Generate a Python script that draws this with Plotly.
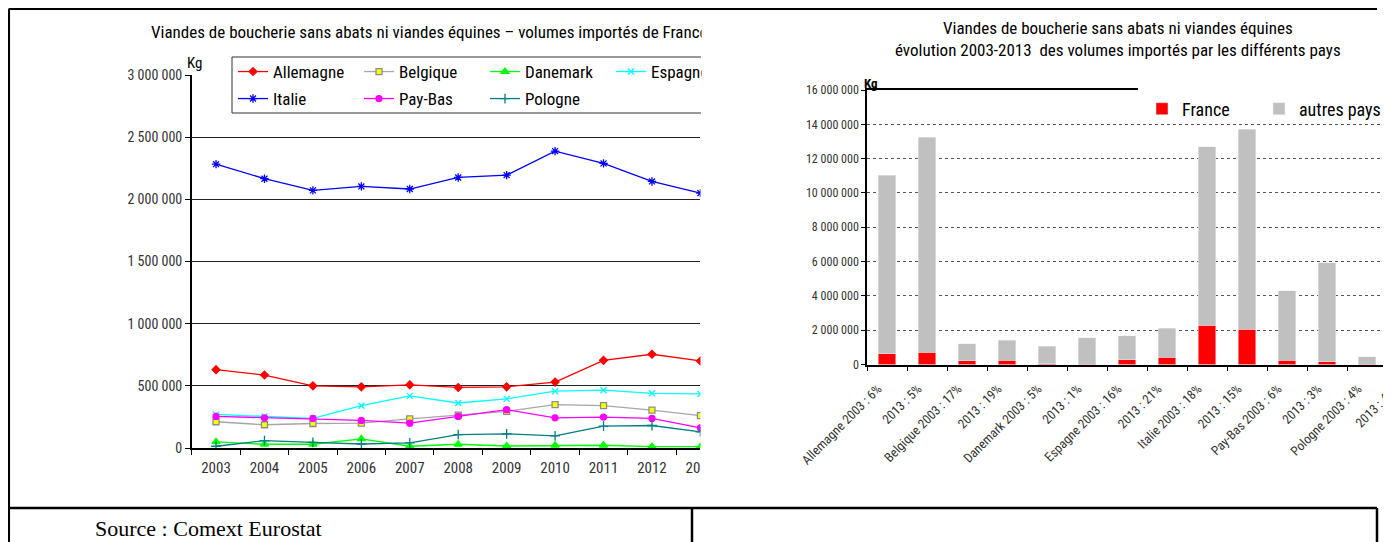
import plotly.graph_objects as go

W, H = 1391, 542
OFF = 8  # the page body keeps its default 8px margin
NARROW = "Roboto Condensed, Liberation Sans Narrow, Arial Narrow, Roboto, sans-serif"

# left chart: volumes imported from France (kg)
years = ["2003", "2004", "2005", "2006", "2007", "2008", "2009", "2010", "2011", "2012", "2013"]
allemagne = [630000, 587000, 500000, 492000, 508000, 487000, 492000, 530000, 705000, 754000, 700000]
belgique = [211000, 187000, 197000, 200000, 235000, 265000, 295000, 349000, 341000, 305000, 260000]
danemark = [49000, 30000, 30000, 73000, 14000, 30000, 16000, 22000, 22000, 11000, 11000]
espagne = [270000, 254000, 238000, 340000, 419000, 362000, 395000, 457000, 465000, 440000, 435000]
italie = [2283000, 2166000, 2072000, 2104000, 2083000, 2176000, 2195000, 2388000, 2289000, 2144000, 2050000]
paybas = [254000, 243000, 238000, 222000, 200000, 254000, 308000, 243000, 249000, 238000, 162000]
pologne = [14000, 59000, 46000, 32000, 41000, 108000, 114000, 97000, 176000, 181000, 130000]

# right chart: 2003 / 2013 totals split France / others
bar_labels = ["Allemagne 2003 : 6%", "2013 : 5%", "Belgique 2003 : 17%", "2013 : 19%",
              "Danemark 2003 : 5%", "2013 : 1%", "Espagne 2003 : 16%", "2013 : 21%",
              "Italie 2003 : 18%", "2013 : 15%", "Pay-Bas 2003 : 6%", "2013 : 3%",
              "Pologne 2003 : 4%", "2013 : 4%"]
france = [630000, 700000, 211000, 260000, 49000, 11000, 270000, 435000,
          2283000, 2050000, 254000, 162000, 14000, 130000]
autres = [10390000, 12540000, 1009000, 1140000, 1001000, 1559000, 1420000, 1665000,
          10407000, 11650000, 4036000, 5768000, 436000, 2870000]


def fx(x):
    return max(x - OFF, 0.8) / W


def fy(y):
    return 1 - max(y - OFF, 0.8) / H


fig = go.Figure()

series = [
    ("Allemagne", allemagne, "#FF0000", "diamond", 6, "#FF0000", "#FF0000", "legend"),
    ("Belgique", belgique, "#A6A6A6", "square", 6, "#FFFF00", "#8C8C8C", "legend"),
    ("Danemark", danemark, "#00FF00", "triangle-up", 7, "#00FF00", "#00FF00", "legend"),
    ("Espagne", espagne, "#00FFFF", "x-thin", 6, "#00FFFF", "#00FFFF", "legend"),
    ("Italie", italie, "#0000FF", "asterisk", 7, "#0000FF", "#0000FF", "legend2"),
    ("Pay-Bas", paybas, "#FF00FF", "circle", 6, "#FF00FF", "#FF00FF", "legend2"),
    ("Pologne", pologne, "#008080", "cross-thin", 7, "#008080", "#008080", "legend2"),
]
for name, vals, col, sym, size, fill, edge, leg in series:
    fig.add_trace(go.Scatter(
        x=years, y=vals, name=name, mode="lines+markers",
        line=dict(color=col, width=1.3),
        marker=dict(symbol=sym, size=size, color=fill, line=dict(color=edge, width=1.3)),
        xaxis="x", yaxis="y", legend=leg))

fig.add_trace(go.Bar(x=bar_labels, y=france, name="France", marker_color="#FF0000",
                     width=0.43, xaxis="x2", yaxis="y2", legend="legend3"))
fig.add_trace(go.Bar(x=bar_labels, y=autres, name="autres pays", marker_color="#C0C0C0",
                     width=0.43, xaxis="x2", yaxis="y2", legend="legend4"))

leg_font = dict(family=NARROW, size=17, color="#000")
leg_font_r = dict(family=NARROW, size=18, color="#000")
fig.update_layout(
    width=W, height=H,
    margin=dict(l=0, r=0, t=0, b=0, autoexpand=False),
    paper_bgcolor="white", plot_bgcolor="white",
    separators=", ",
    barmode="stack",
    font=dict(family=NARROW, color="#333"),
    xaxis=dict(domain=[fx(191.8), fx(700.4)], type="category", range=[-0.5, 10],
               tickson="boundaries", ticks="outside", ticklen=5, tickcolor="#000",
               showline=True, linecolor="#000", linewidth=1.5, showgrid=False,
               ticklabelstandoff=5,
               tickfont=dict(size=15, color="#333"), anchor="y"),
    yaxis=dict(domain=[fy(448), fy(75)], range=[0, 3000000], dtick=500000,
               tickformat=",d", ticks="outside", ticklen=5, tickcolor="#000",
               showline=True, linecolor="#000", linewidth=1.5,
               gridcolor="#222", gridwidth=1, zeroline=False,
               tickfont=dict(size=14, color="#333"), anchor="x"),
    xaxis2=dict(domain=[fx(867), fx(1385)], type="category", range=[-0.5, 12.45],
                tickson="boundaries", ticks="outside", ticklen=5, tickcolor="#000",
                showline=True, mirror=True, linecolor="#000", linewidth=1.5, showgrid=False,
                tickangle=-45, ticklabelshift=-9, ticklabelstandoff=10,
                tickfont=dict(size=13, color="#333"), anchor="y2"),
    yaxis2=dict(domain=[fy(364.5), fy(90)], range=[0, 16000000], dtick=2000000,
                tickformat=",d", ticks="outside", ticklen=4, tickcolor="#000",
                showline=True, linecolor="#000", linewidth=1.5,
                gridcolor="#555", griddash="dot", gridwidth=1, zeroline=False,
                tickfont=dict(size=12, color="#333"), anchor="x2"),
    legend=dict(x=fx(233), y=fy(72), xanchor="left", yanchor="middle", orientation="h",
                entrywidth=81, bgcolor="rgba(0,0,0,0)", font=leg_font),
    legend2=dict(x=fx(233), y=fy(99), xanchor="left", yanchor="middle", orientation="h",
                 entrywidth=81, bgcolor="rgba(0,0,0,0)", font=leg_font),
    legend3=dict(x=fx(1142), y=fy(109), xanchor="left", yanchor="middle", orientation="h",
                 bgcolor="rgba(0,0,0,0)", font=leg_font_r),
    legend4=dict(x=fx(1259), y=fy(109), xanchor="left", yanchor="middle", orientation="h",
                 bgcolor="rgba(0,0,0,0)", font=leg_font_r),
)

shapes = [
    # legend box of the left chart (white fill hides the 3 000 000 grid line)
    dict(type="rect", xref="paper", yref="paper", x0=fx(232), x1=fx(720), y0=fy(113), y1=fy(57),
         fillcolor="white", line=dict(color="#333", width=1), layer="above"),
    # the left chart is cut by its table cell
    dict(type="rect", xref="paper", yref="paper", x0=fx(701), x1=fx(770), y0=fy(490), y1=fy(40),
         fillcolor="white", line=dict(width=0), layer="above"),
    # right chart: top frame line only up to the legend
    dict(type="rect", xref="paper", yref="paper", x0=fx(1138), x1=1, y0=fy(94), y1=fy(86),
         fillcolor="white", line=dict(width=0), layer="above"),
    # table borders
    dict(type="line", xref="paper", yref="paper", x0=fx(5), x1=fx(1377), y0=fy(7), y1=fy(7),
         line=dict(color="#000", width=2.5)),
    dict(type="line", xref="paper", yref="paper", x0=fx(5), x1=fx(5), y0=fy(7), y1=0,
         line=dict(color="#000", width=2.5)),
    dict(type="line", xref="paper", yref="paper", x0=fx(5), x1=fx(1377), y0=fy(508), y1=fy(508),
         line=dict(color="#000", width=2.5)),
    dict(type="line", xref="paper", yref="paper", x0=fx(692), x1=fx(692), y0=fy(508), y1=0,
         line=dict(color="#000", width=2.5)),
    dict(type="line", xref="paper", yref="paper", x0=fx(1377), x1=fx(1377), y0=fy(508), y1=0,
         line=dict(color="#000", width=2.5)),
]
fig.update_layout(shapes=shapes)

xr = fig.layout.xaxis2.range
annotations = [
    dict(text="Viandes de boucherie sans abats ni viandes équines – volumes importés de France",
         xref="paper", yref="paper", x=fx(149), y=fy(32), xanchor="left", yanchor="middle",
         showarrow=False, font=dict(family=NARROW, size=17, color="#000")),
    dict(text=" ", xref="paper", yref="paper", x=fx(701), y=fy(12), xanchor="left", yanchor="top",
         width=60, height=110, bgcolor="white", showarrow=False),
    dict(text="Kg", xref="paper", yref="paper", x=fx(185), y=fy(63), xanchor="left", yanchor="middle",
         showarrow=False, font=dict(family=NARROW, size=15, color="#000")),
    dict(text="Viandes de boucherie sans abats ni viandes équines<br>évolution 2003-2013  des volumes importés par les différents pays",
         xref="paper", yref="paper", x=fx(1118), y=fy(39), xanchor="center", yanchor="middle",
         showarrow=False, font=dict(family=NARROW, size=17, color="#000")),
    dict(text="<b>Kg</b>", xref="paper", yref="paper", x=fx(862), y=fy(83), xanchor="left", yanchor="middle",
         showarrow=False, font=dict(family=NARROW, size=13, color="#000")),
    # last category label, beyond the visible range
    dict(text=bar_labels[-1], xref="x2 domain", yref="y2 domain",
         x=(len(bar_labels) - 1 - xr[0]) / (xr[1] - xr[0]), y=0, xanchor="right", yanchor="top",
         xshift=-6, yshift=-18, textangle=-45, showarrow=False,
         font=dict(family=NARROW, size=13, color="#333")),
    dict(text="Source : Comext Eurostat", xref="paper", yref="paper", x=fx(93), y=fy(528),
         xanchor="left", yanchor="middle", showarrow=False,
         font=dict(family="Liberation Serif, Times New Roman, serif", size=22, color="#000")),
]
fig.update_layout(annotations=annotations)

fig.write_html("out.html")
